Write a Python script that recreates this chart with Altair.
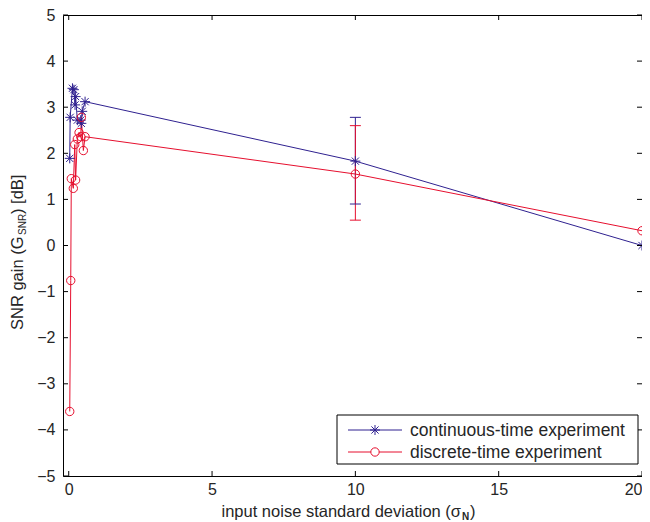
import altair as alt
import pandas as pd

BLUE = "#2f2190"
RED = "#e60f2e"
TXT = "#262626"
FONT = "Liberation Sans"

# ---- data ----
blue_x = [0.035, 0.05, 0.13, 0.18, 0.22, 0.24, 0.30, 0.42, 0.44, 0.47, 0.57, 10, 20]
blue_y = [1.89, 2.78, 3.41, 3.38, 3.05, 3.23, 2.72, 2.72, 2.65, 2.91, 3.12, 1.83, 0.0]
red_x = [0.035, 0.07, 0.09, 0.16, 0.21, 0.24, 0.30, 0.36, 0.42, 0.44, 0.51, 0.57, 10, 20]
red_y = [-3.6, -0.76, 1.45, 1.24, 2.19, 1.42, 2.31, 2.45, 2.36, 2.78, 2.06, 2.36, 1.55, 0.32]

err_x = [10, 10]
err_lo = [0.90, 0.55]
err_hi = [2.78, 2.60]
err_series = ["continuous", "discrete"]

x_ticks = [0, 5, 10, 15, 20]
y_ticks = [-5, -4, -3, -2, -1, 0, 1, 2, 3, 4, 5]
legend_labels = ["continuous-time experiment", "discrete-time experiment"]

X_DOM = [-0.2, 20]
Y_DOM = [-5, 5]
W, H = 579, 461

STAR = "M-1,0L1,0M0,-1L0,1M-0.72,-0.72L0.72,0.72M-0.72,0.72L0.72,-0.72"

xs = alt.Scale(domain=X_DOM, nice=False, zero=False)
ys = alt.Scale(domain=Y_DOM, nice=False, zero=False)

x_axis = alt.Axis(values=x_ticks, ticks=False, domain=False, grid=False,
                  labelFont=FONT, labelFontSize=16, labelColor=TXT,
                  labelPadding=5, title=None)
y_axis = alt.Axis(values=y_ticks, ticks=False, domain=False, grid=False,
                  labelFont=FONT, labelFontSize=16, labelColor=TXT,
                  labelPadding=8, title=None)

blue_df = pd.DataFrame({"x": blue_x, "y": blue_y})
red_df = pd.DataFrame({"x": red_x, "y": red_y})
err_df = pd.DataFrame({"x": err_x, "lo": err_lo, "hi": err_hi, "s": err_series})

# inward tick marks (lengths in data units ~5px)
tx = 5 * (X_DOM[1] - X_DOM[0]) / W
ty = 5 * (Y_DOM[1] - Y_DOM[0]) / H
xt_df = pd.DataFrame({"x": x_ticks})
yt_df = pd.DataFrame({"y": y_ticks})

X = lambda f="x": alt.X(f"{f}:Q", scale=xs, axis=x_axis)
Y = lambda f="y": alt.Y(f"{f}:Q", scale=ys, axis=y_axis)

ticks_bottom = alt.Chart(xt_df).transform_calculate(
    y0=str(Y_DOM[0]), y1=str(Y_DOM[0] + ty)
).mark_rule(color="black", strokeWidth=1).encode(x=X(), y=alt.Y("y0:Q", scale=ys, axis=y_axis), y2="y1:Q")
ticks_top = alt.Chart(xt_df).transform_calculate(
    y0=str(Y_DOM[1]), y1=str(Y_DOM[1] - ty)
).mark_rule(color="black", strokeWidth=1).encode(x=X(), y=alt.Y("y0:Q", scale=ys, axis=y_axis), y2="y1:Q")
ticks_left = alt.Chart(yt_df).transform_calculate(
    x0=str(X_DOM[0]), x1=str(X_DOM[0] + tx)
).mark_rule(color="black", strokeWidth=1).encode(y=Y(), x=alt.X("x0:Q", scale=xs, axis=x_axis), x2="x1:Q")
ticks_right = alt.Chart(yt_df).transform_calculate(
    x0=str(X_DOM[1]), x1=str(X_DOM[1] - tx)
).mark_rule(color="black", strokeWidth=1).encode(y=Y(), x=alt.X("x0:Q", scale=xs, axis=x_axis), x2="x1:Q")

blue_line = alt.Chart(blue_df).mark_line(color=BLUE, strokeWidth=1).encode(x=X(), y=Y())
red_line = alt.Chart(red_df).mark_line(color=RED, strokeWidth=1).encode(x=X(), y=Y())
blue_pts = alt.Chart(blue_df).mark_point(shape=STAR, size=100, filled=False, stroke=BLUE,
                                         strokeWidth=1, opacity=1).encode(x=X(), y=Y())
red_pts = alt.Chart(red_df).mark_point(shape="circle", size=70, filled=False, stroke=RED,
                                       strokeWidth=1, opacity=1).encode(x=X(), y=Y())

err_color = alt.Color("s:N", scale=alt.Scale(domain=err_series, range=[BLUE, RED]), legend=None)
err_rule = alt.Chart(err_df).mark_rule(strokeWidth=1).encode(
    x=X(), y=alt.Y("lo:Q", scale=ys, axis=y_axis), y2="hi:Q", color=err_color)
err_cap_lo = alt.Chart(err_df).mark_tick(orient="horizontal", size=11, thickness=1, opacity=1).encode(
    x=X(), y=alt.Y("lo:Q", scale=ys, axis=y_axis), color=err_color)
err_cap_hi = alt.Chart(err_df).mark_tick(orient="horizontal", size=11, thickness=1, opacity=1).encode(
    x=X(), y=alt.Y("hi:Q", scale=ys, axis=y_axis), color=err_color)

one = pd.DataFrame({"a": [0]})

# legend (drawn manually, pixel positions relative to plot area)
LX0, LX1, LY0, LY1 = 274, 575, 400, 449
leg_box = alt.Chart(one).mark_rect(fill="white", stroke="black", strokeWidth=1).encode(
    x=alt.value(LX0), x2=alt.value(LX1), y=alt.value(LY0), y2=alt.value(LY1))
leg_layers = [leg_box]
for i, (lab, col) in enumerate(zip(legend_labels, [BLUE, RED])):
    yy = 415 + 22 * i
    leg_layers.append(alt.Chart(one).mark_rule(color=col, strokeWidth=1).encode(
        x=alt.value(285), x2=alt.value(339), y=alt.value(yy)))
    if i == 0:
        leg_layers.append(alt.Chart(one).mark_point(shape=STAR, size=100, filled=False, stroke=col,
                                                    strokeWidth=1, opacity=1).encode(
            x=alt.value(312), y=alt.value(yy)))
    else:
        leg_layers.append(alt.Chart(one).mark_point(shape="circle", size=70, filled=False, stroke=col,
                                                    strokeWidth=1, opacity=1, fill="white").encode(
            x=alt.value(312), y=alt.value(yy)))
    leg_layers.append(alt.Chart(one).mark_text(text=lab, font=FONT, fontSize=17.5, color=TXT,
                                               align="left", baseline="middle").encode(
        x=alt.value(347), y=alt.value(yy + 1)))

# axis titles with subscripts
def txt(t, x, y, size, angle=0, align="left", baseline="alphabetic", weight="normal"):
    return alt.Chart(one).mark_text(text=t, font=FONT, fontSize=size, color=TXT, angle=angle,
                                    align=align, baseline=baseline, fontWeight=weight).encode(
        x=alt.value(x), y=alt.value(y))

titles = [
    txt("input noise standard deviation (σ", 398, 502, 16.5, align="right"),
    txt("N", 399, 505, 10, weight="bold"),
    txt(")", 407, 502, 16.5),
    txt("SNR gain (G", -40, 315, 16.5, angle=270),
    txt("SNR", -37, 220, 10, angle=270),
    txt(") [dB]", -40, 199, 16.5, angle=270),
]

chart = alt.layer(
    blue_line, red_line, err_rule, err_cap_lo, err_cap_hi, blue_pts, red_pts,
    ticks_bottom, ticks_top, ticks_left, ticks_right,
    *leg_layers, *titles
).properties(
    width=W, height=H,
    autosize=alt.AutoSizeParams(type="none"),
    padding={"left": 55, "top": 7, "right": 0, "bottom": 45},
).configure_view(stroke="black", strokeWidth=1)

chart.save("out.html", embed_options={"renderer": "svg", "actions": False})
